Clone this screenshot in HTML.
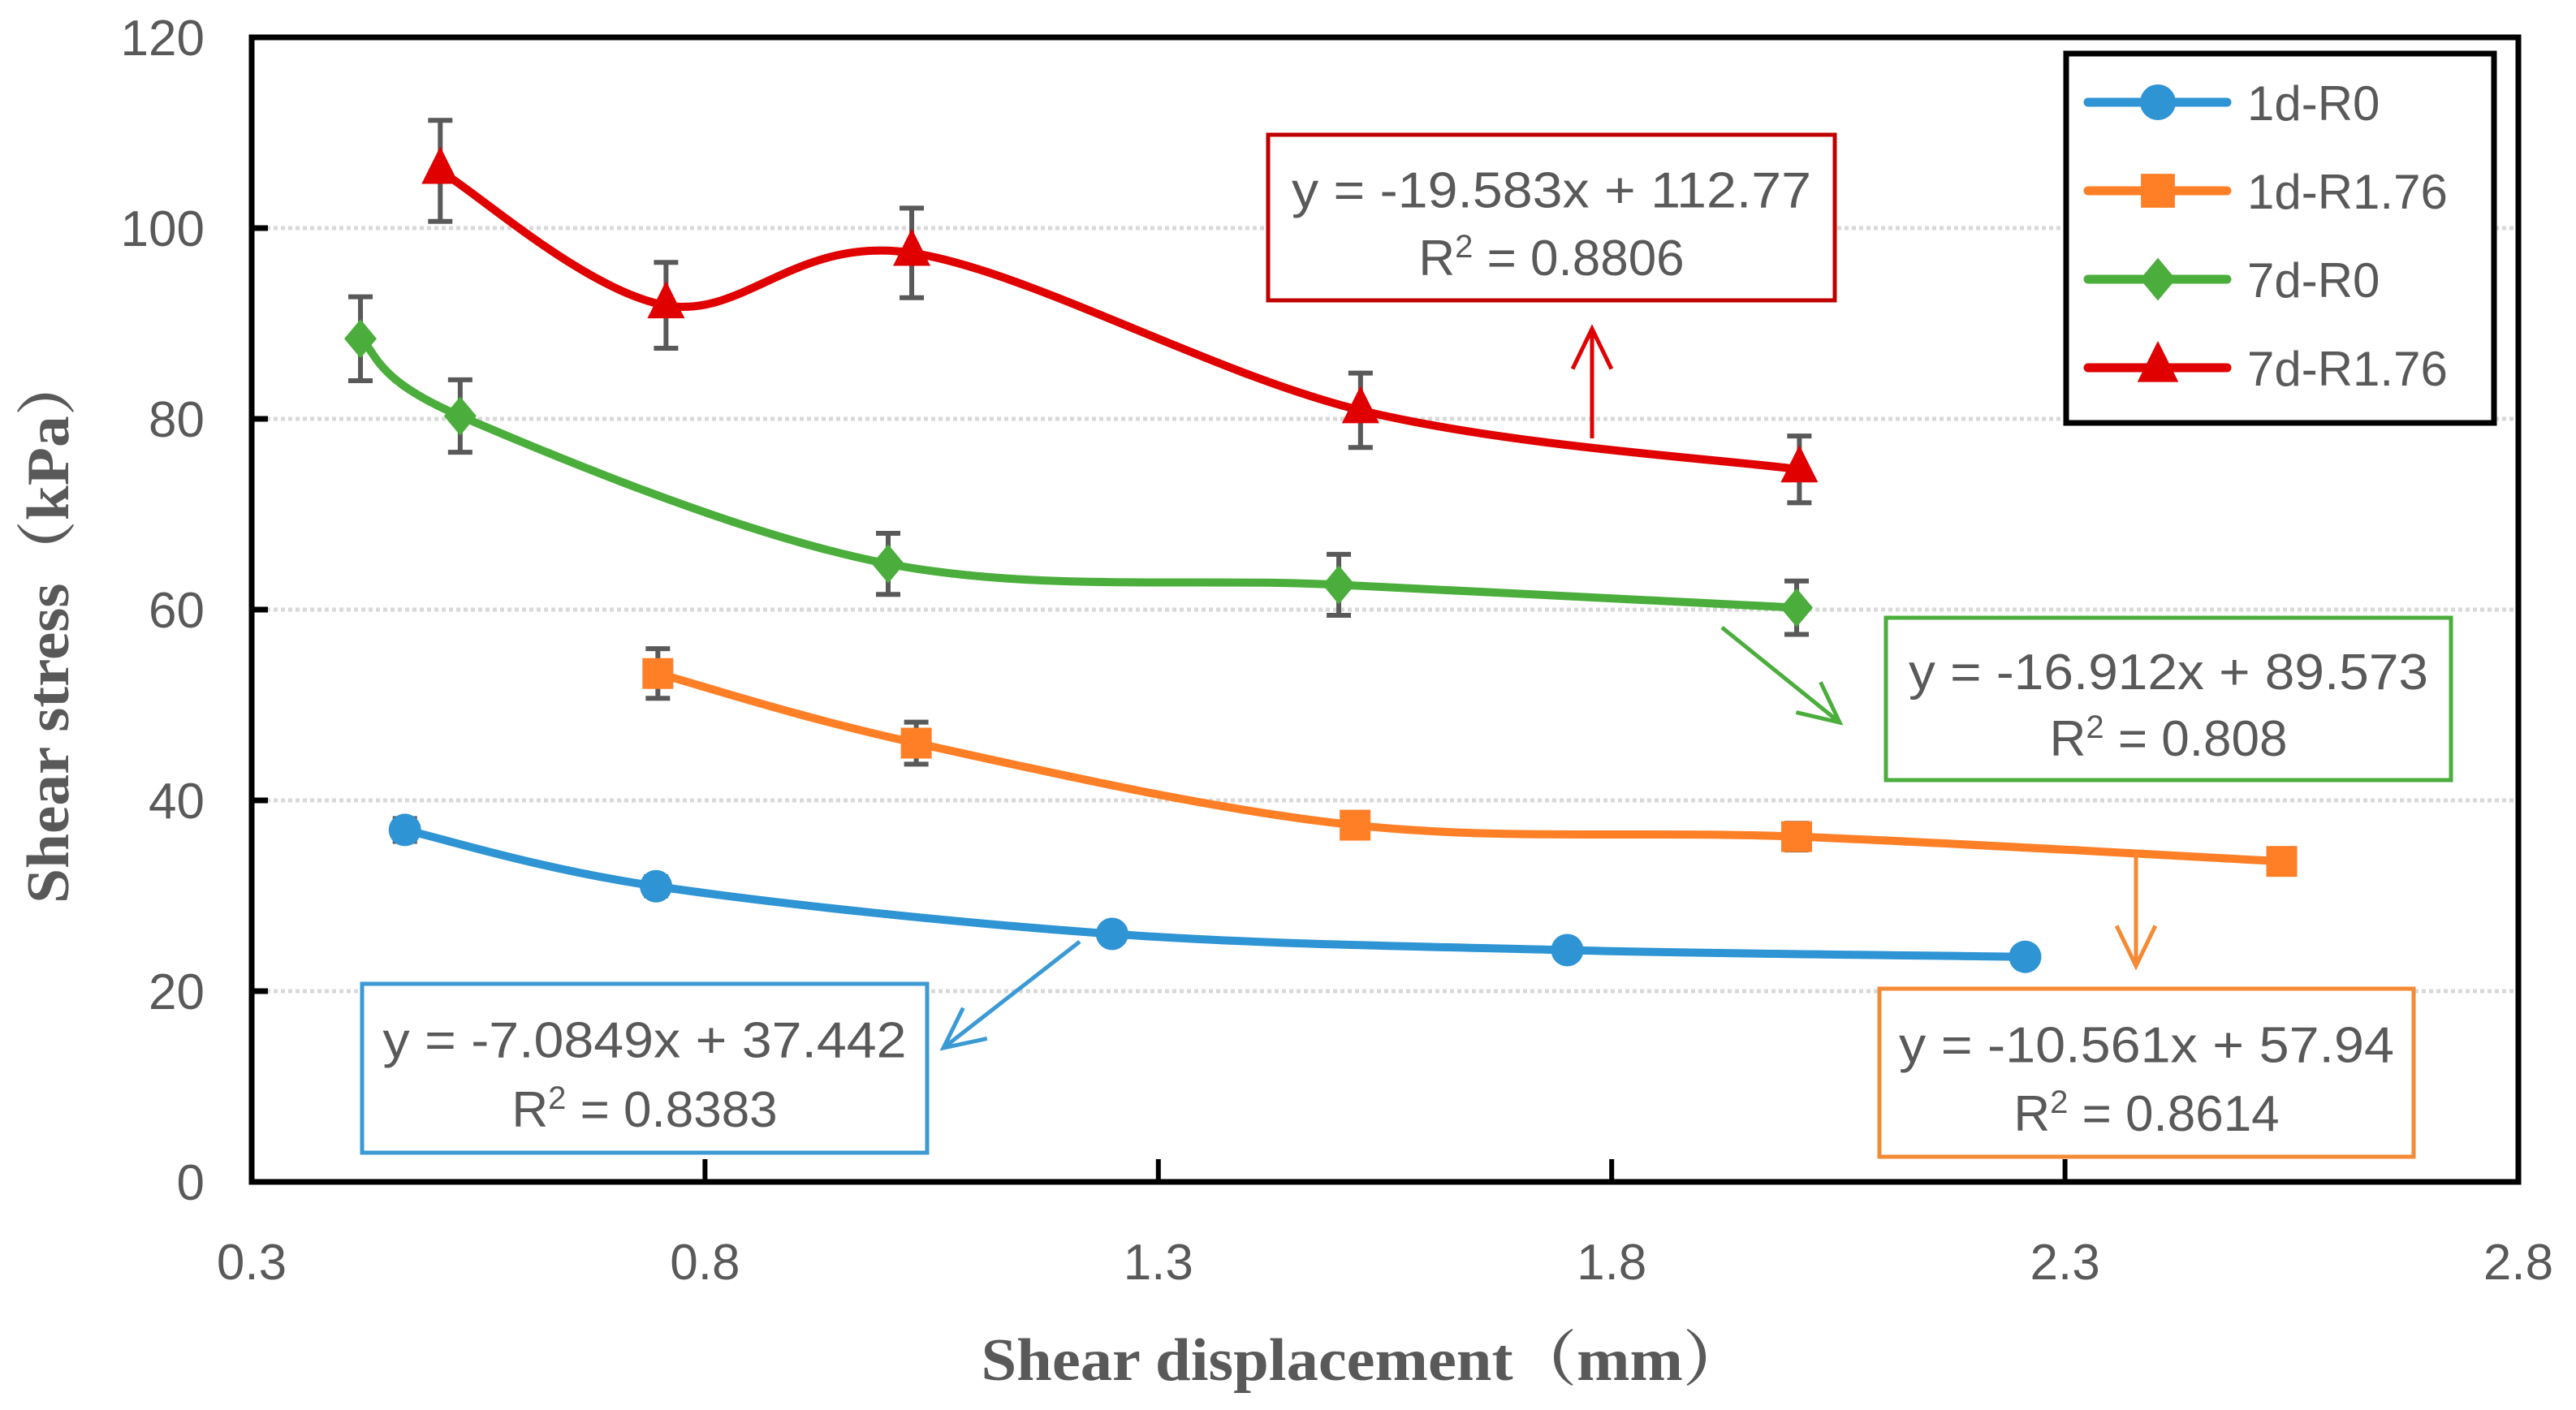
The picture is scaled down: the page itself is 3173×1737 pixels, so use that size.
<!DOCTYPE html>
<html><head><meta charset="utf-8"><style>
html,body{margin:0;padding:0;background:#fff;}
svg{display:block;}
</style></head><body>
<svg id="chart" width="3173" height="1737" viewBox="0 0 3173 1737" xmlns="http://www.w3.org/2000/svg" font-family="'Liberation Sans', sans-serif">
<rect width="3173" height="1737" fill="#fff"/>
<g id="grid"></g>
<g id="series"></g>
<rect x="310" y="46" width="2792" height="1410" fill="none" stroke="#000" stroke-width="7"/>
<g id="ticks"></g>
<text transform="translate(84,774) rotate(-90)" text-anchor="middle" font-family="'Liberation Serif','Noto Serif CJK SC',serif" font-weight="bold" font-size="74" fill="#595959" textLength="678" lengthAdjust="spacingAndGlyphs">Shear stress（kPa）</text>
<text x="1680" y="1700" text-anchor="middle" font-family="'Liberation Serif','Noto Serif CJK SC',serif" font-weight="bold" font-size="74" fill="#595959" textLength="943" lengthAdjust="spacingAndGlyphs">Shear displacement（mm）</text>
<g id="annot"></g>
<g>
<rect x="2545" y="66" width="527" height="455" fill="#fff" stroke="#000" stroke-width="7"/>
<g id="legend"></g>
</g>
</svg>
<script>
const categories = ['1d-R0','1d-R1.76','7d-R0','7d-R1.76'];
const xR0_1 = [0.469,0.746,1.249,1.751,2.256];
const yR0_1 = [36.9,31.0,26.0,24.3,23.6];
const eR0_1 = [1.2,1.0,0.8,0.8,0.8];
const xR176_1 = [0.748,1.033,1.517,2.004,2.539];
const yR176_1 = [53.3,46.0,37.4,36.2,33.6];
const eR176_1 = [2.6,2.2,1.2,1.4,0.8];
const xR0_7 = [0.42,0.53,1.002,1.499,2.004];
const yR0_7 = [88.4,80.3,64.8,62.6,60.2];
const eR0_7 = [4.4,3.8,3.2,3.2,2.8];
const xR176_7 = [0.508,0.757,1.028,1.523,2.007];
const yR176_7 = [106.0,91.9,97.4,80.9,74.7];
const eR176_7 = [5.3,4.5,4.7,3.9,3.5];
const xTicks = [0.3,0.8,1.3,1.8,2.3,2.8];
const yTicks = [0,20,40,60,80,100,120];

const NS='http://www.w3.org/2000/svg';
const X0=310,X1=3102,Y0=1456,Y1=46;
const sx=v=>X0+(v-0.3)/2.5*(X1-X0);
const sy=v=>Y0-v/120*(Y0-Y1);
function mk(tag,attrs,parent){const e=document.createElementNS(NS,tag);for(const k in attrs)e.setAttribute(k,attrs[k]);parent.appendChild(e);return e;}
const grid=document.getElementById('grid'),ticks=document.getElementById('ticks'),ser=document.getElementById('series'),ann=document.getElementById('annot'),leg=document.getElementById('legend');
yTicks.forEach(t=>{
  if(t>0&&t<120){const g=mk('line',{x1:X0,x2:X1,y1:sy(t),y2:sy(t),stroke:'#d9d9d9','stroke-width':5,'stroke-dasharray':'5 4'},grid);
  
  
  const tk=mk('line',{x1:X0,x2:X0+20,y1:sy(t),y2:sy(t),stroke:'#000','stroke-width':7},ticks);
  
  }
  const l=mk('text',{x:252,y:sy(t)+22,'text-anchor':'end','font-size':62,fill:'#595959'},ticks);
  l.textContent=t;
  
  
});
xTicks.forEach(t=>{
  if(t>0.3&&t<2.8){const tk=mk('line',{x1:sx(t),x2:sx(t),y1:Y0,y2:Y0-28,stroke:'#000','stroke-width':6},ticks);
  
  }
  const l=mk('text',{x:sx(t),y:1576,'text-anchor':'middle','font-size':62,fill:'#595959'},ticks);
  l.textContent=t.toFixed(1);
  
  
});
function smooth(pts){
  let d='M'+pts[0][0]+','+pts[0][1];
  for(let i=0;i<pts.length-1;i++){
    const p0=pts[i-1]||pts[i],p1=pts[i],p2=pts[i+1],p3=pts[i+2]||p2;
    const t=1/6;
    d+=' C'+(p1[0]+(p2[0]-p0[0])*t)+','+(p1[1]+(p2[1]-p0[1])*t)+' '+(p2[0]-(p3[0]-p1[0])*t)+','+(p2[1]-(p3[1]-p1[1])*t)+' '+p2[0]+','+p2[1];
  }
  return d;
}
function marker(shape,cx,cy,color,parent,scale){
  const s=scale||1;let e;
  if(shape==='circle')e=mk('circle',{cx:cx,cy:cy,r:20*s,fill:color},parent);
  else if(shape==='square')e=mk('rect',{x:cx-19*s,y:cy-19*s,width:38*s,height:38*s,fill:color},parent);
  else if(shape==='diamond')e=mk('polygon',{points:`${cx},${cy-24*s} ${cx+20*s},${cy} ${cx},${cy+24*s} ${cx-20*s},${cy}`,fill:color},parent);
  else e=mk('polygon',{points:`${cx},${cy-30*s} ${cx+23*s},${cy+16*s} ${cx-23*s},${cy+16*s}`,fill:color},parent);
  return e;
}
const seriesDefs=[
 {name:'1d-R0',xs:xR0_1,ys:yR0_1,es:eR0_1,color:'#2E94D4',shape:'circle'},
 {name:'1d-R1.76',xs:xR176_1,ys:yR176_1,es:eR176_1,color:'#FF7F27',shape:'square'},
 {name:'7d-R0',xs:xR0_7,ys:yR0_7,es:eR0_7,color:'#4BAE3C',shape:'diamond'},
 {name:'7d-R1.76',xs:xR176_7,ys:yR176_7,es:eR176_7,color:'#E00000',shape:'triangle'}];
seriesDefs.forEach((s,si)=>{
  const g=mk('g',{},ser);
  
  
  s.xs.forEach((x,i)=>{
    const cx=sx(x),t=sy(s.ys[i]+s.es[i]),b=sy(s.ys[i]-s.es[i]);
    const eb=mk('path',{d:`M${cx},${t}V${b}M${cx-15},${t}H${cx+15}M${cx-15},${b}H${cx+15}`,stroke:'#595959','stroke-width':6,fill:'none'},g);
    
    
  });
  const pts=s.xs.map((x,i)=>[sx(x),sy(s.ys[i])]);
  const ln=mk('path',{d:smooth(pts),stroke:s.color,'stroke-width':10,fill:'none','stroke-linecap':'round'},g);
  
  
  pts.forEach(p=>{const m=marker(s.shape,p[0],p[1],s.color,g);
    
    });
  const ly=126+si*109;
  const ll=mk('line',{x1:2572,x2:2743,y1:ly,y2:ly,stroke:s.color,'stroke-width':11,'stroke-linecap':'round'},leg);
  
  
  const lm=marker(s.shape,2658,ly,s.color,leg,1.1);
  
  
  const lt=mk('text',{x:2768,y:ly+22,'font-size':60,fill:'#595959'},leg);
  lt.textContent=s.name;
  
  
});
const boxes=[
 {n:'red',c:'#C00000',a:'#E00000',x:1562,y:166,w:698,h:204,eq:'y = -19.583x + 112.77',r:'0.8806',tl:640,arrow:[1961,540,1961,405]},
 {n:'green',c:'#4BAE3C',a:'#4BAE3C',x:2323,y:761,w:696,h:200,eq:'y = -16.912x + 89.573',r:'0.808',tl:640,arrow:[2121,773,2266,890]},
 {n:'orange',c:'#F58A35',a:'#F58A35',x:2315,y:1218,w:658,h:207,eq:'y = -10.561x + 57.94',r:'0.8614',tl:610,arrow:[2631,1052,2631,1190]},
 {n:'blue',c:'#3B9AD4',a:'#3B9AD4',x:446,y:1212,w:696,h:208,eq:'y = -7.0849x + 37.442',r:'0.8383',tl:645,arrow:[1330,1160,1162,1291]}];
boxes.forEach(b=>{
  const g=mk('g',{},ann);
  
  
  mk('rect',{x:b.x,y:b.y,width:b.w,height:b.h,fill:'#fff',stroke:b.c,'stroke-width':5},g);
  const cx=b.x+b.w/2;
  const t1=mk('text',{x:cx,y:b.y+b.h*0.33+22,'text-anchor':'middle','font-size':62,fill:'#595959',textLength:b.tl,lengthAdjust:'spacingAndGlyphs'},g);
  t1.textContent=b.eq;
  const t2=mk('text',{x:cx,y:b.y+b.h*0.74+22,'text-anchor':'middle','font-size':62,fill:'#595959'},g);
  t2.innerHTML='R<tspan dy="-22" font-size="40">2</tspan><tspan dy="22"> = '+b.r+'</tspan>';
  const [x1,y1,x2,y2]=b.arrow;
  const ang=Math.atan2(y2-y1,x2-x1),L=55,sp=0.45;
  const ar=mk('path',{d:`M${x1},${y1}L${x2},${y2}M${x2-L*Math.cos(ang-sp)},${y2-L*Math.sin(ang-sp)}L${x2},${y2}L${x2-L*Math.cos(ang+sp)},${y2-L*Math.sin(ang+sp)}`,stroke:b.a,'stroke-width':5,fill:'none'},g);
  
  
});
</script>
</body></html>
